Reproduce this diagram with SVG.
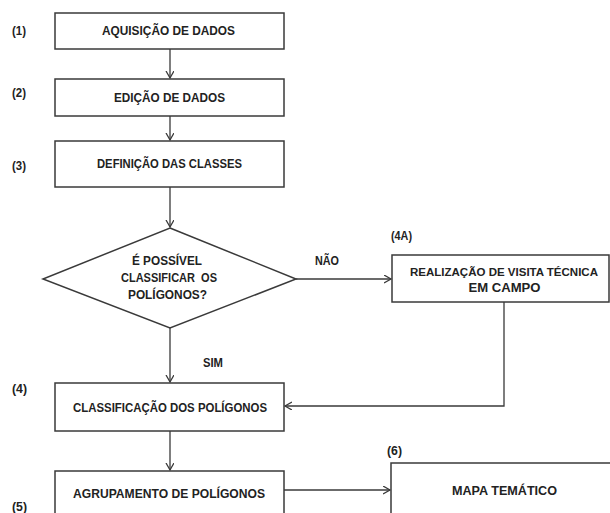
<svg xmlns="http://www.w3.org/2000/svg" width="610" height="513" viewBox="0 0 610 513">
<style>
.box{fill:#fff;stroke:#3a3a3a;stroke-width:1.5}
.t{font-family:"Liberation Sans",Arial,sans-serif;font-weight:bold;font-size:12.5px;fill:#222}
.c{text-anchor:middle}
.ln{fill:none;stroke:#3a3a3a;stroke-width:1.3}
</style>
<defs>
<marker id="ar" markerUnits="userSpaceOnUse" markerWidth="10" markerHeight="10" refX="7" refY="4" orient="auto">
<path d="M0,0 L7,4 L0,8" fill="none" stroke="#3a3a3a" stroke-width="1.3"/>
</marker>
</defs>
<rect width="610" height="513" fill="#fff"/>
<g id="connectors">
<line class="ln" x1="170" y1="49" x2="170" y2="78" marker-end="url(#ar)"/>
<line class="ln" x1="170" y1="116" x2="170" y2="140" marker-end="url(#ar)"/>
<line class="ln" x1="170" y1="187" x2="170" y2="227" marker-end="url(#ar)"/>
<line class="ln" x1="296" y1="279" x2="391" y2="279" marker-end="url(#ar)"/>
<line class="ln" x1="170" y1="328" x2="170" y2="382" marker-end="url(#ar)"/>
<polyline class="ln" points="504,302 504,406 285,406" marker-end="url(#ar)"/>
<line class="ln" x1="170" y1="431" x2="170" y2="470" marker-end="url(#ar)"/>
<line class="ln" x1="284" y1="490" x2="390" y2="490" marker-end="url(#ar)"/>
<text class="t" x="315" y="265" textLength="24" lengthAdjust="spacingAndGlyphs">NÃO</text>
<text class="t" x="203" y="367" textLength="20" lengthAdjust="spacingAndGlyphs">SIM</text>
</g>
<g id="n1">
<rect class="box" x="55" y="13" width="229" height="36"/>
<text class="t c" x="168.5" y="35" textLength="133" lengthAdjust="spacingAndGlyphs">AQUISIÇÃO DE DADOS</text>
<text class="t" x="12" y="35" textLength="14" lengthAdjust="spacingAndGlyphs">(1)</text>
</g>
<g id="n2">
<rect class="box" x="55" y="79" width="229" height="37"/>
<text class="t c" x="169.5" y="102" textLength="111" lengthAdjust="spacingAndGlyphs">EDIÇÃO DE DADOS</text>
<text class="t" x="12" y="97" textLength="14" lengthAdjust="spacingAndGlyphs">(2)</text>
</g>
<g id="n3">
<rect class="box" x="55" y="141" width="229" height="46"/>
<text class="t c" x="169.5" y="168" textLength="145" lengthAdjust="spacingAndGlyphs">DEFINIÇÃO DAS CLASSES</text>
<text class="t" x="12" y="170" textLength="14" lengthAdjust="spacingAndGlyphs">(3)</text>
</g>
<g id="decision">
<polygon class="box" points="170,228 296,279 170,328 43,279"/>
<text class="t c" x="167" y="265" textLength="70" lengthAdjust="spacingAndGlyphs">É POSSÍVEL</text>
<text class="t c" x="169" y="282" textLength="96" lengthAdjust="spacingAndGlyphs" xml:space="preserve">CLASSIFICAR  OS</text>
<text class="t c" x="167.5" y="299" textLength="79" lengthAdjust="spacingAndGlyphs">POLÍGONOS?</text>
</g>
<g id="n4a">
<rect class="box" x="392" y="255" width="217" height="47"/>
<text class="t c" x="504" y="276" font-size="11.5" style="font-size:11.5px" textLength="188" lengthAdjust="spacingAndGlyphs">REALIZAÇÃO DE VISITA TÉCNICA</text>
<text class="t c" x="504.5" y="292" textLength="72" lengthAdjust="spacingAndGlyphs">EM CAMPO</text>
<text class="t" x="391" y="240" textLength="21" lengthAdjust="spacingAndGlyphs">(4A)</text>
</g>
<g id="n4">
<rect class="box" x="55" y="383" width="229" height="48"/>
<text class="t c" x="170" y="412" textLength="194" lengthAdjust="spacingAndGlyphs">CLASSIFICAÇÃO DOS POLÍGONOS</text>
<text class="t" x="12" y="393" textLength="15" lengthAdjust="spacingAndGlyphs">(4)</text>
</g>
<g id="n5">
<rect class="box" x="55" y="471" width="229" height="60"/>
<text class="t c" x="169" y="498" textLength="192" lengthAdjust="spacingAndGlyphs">AGRUPAMENTO DE POLÍGONOS</text>
<text class="t" x="12" y="511" textLength="15" lengthAdjust="spacingAndGlyphs">(5)</text>
</g>
<g id="n6">
<rect class="box" x="391" y="463" width="240" height="70"/>
<text class="t c" x="504.5" y="495" textLength="105" lengthAdjust="spacingAndGlyphs" xml:space="preserve">MAPA TEMÁTICO</text>
<text class="t" x="387" y="455" textLength="15" lengthAdjust="spacingAndGlyphs">(6)</text>
</g>
</svg>
